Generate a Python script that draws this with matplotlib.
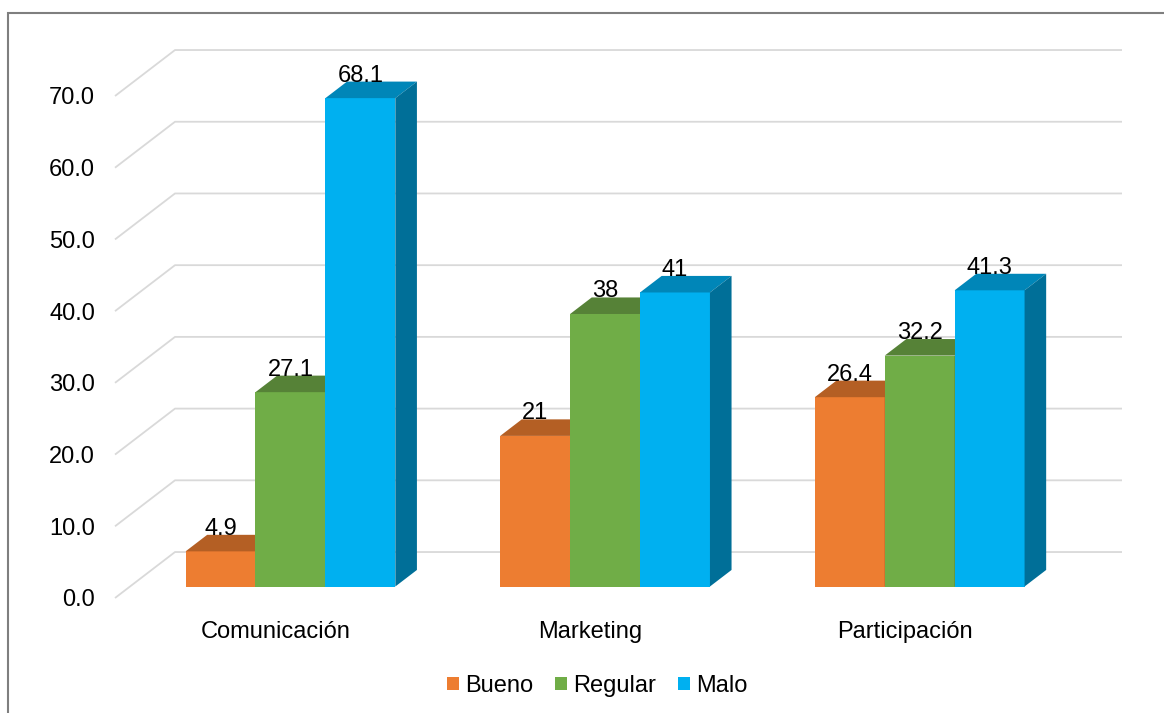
import matplotlib.pyplot as plt
from matplotlib.patches import Polygon, Patch, Rectangle

plt.rcParams['font.family'] = ['Liberation Sans', 'DejaVu Sans']

categorias = ['Comunicación', 'Marketing', 'Participación']
series = ['Bueno', 'Regular', 'Malo']
bueno = [4.9, 21, 26.4]
regular = [27.1, 38, 32.2]
malo = [68.1, 41, 41.3]
yticks = [0, 10, 20, 30, 40, 50, 60, 70]

# front / top / side colours per series
colores = [('#ED7D31', '#B45F24', '#A0521F'),
           ('#70AD47', '#568237', '#4E7631'),
           ('#00B0F0', '#0086B8', '#006F98')]

# fake 3d: depth offset of the back wall, in data units
DX = 0.1907
DY = 6.41
D0, D1 = 0.25, 0.61   # depth range of the bars
W = 2.0 / 9           # bar width
X0, X1 = -0.51, 2.5


def proj(x, v, d):
    return (x + d * DX, v + d * DY)


fig = plt.figure(figsize=(11.64, 7.13), dpi=100)
ax = fig.add_axes([115 / 1164, 115 / 713, 947 / 1164, 502 / 713])
ax.set_xlim(X0, X1)
ax.set_ylim(0, 70)
for s in ax.spines.values():
    s.set_visible(False)

# gridlines running from the front edge to the back wall
for v in yticks:
    pts = [(X0, v), proj(X0, v, 1), proj(X1, v, 1)]
    ax.plot([p[0] for p in pts], [p[1] for p in pts], color='#d9d9d9',
            lw=1.3, zorder=1, clip_on=False, solid_capstyle='butt')

valores = [bueno, regular, malo]
for i in range(len(categorias)):
    for j, vals in enumerate(valores):
        v = vals[i]
        xl = i + (j - 1.5) * W
        xr = xl + W
        front, top, side = colores[j]
        z = 3 + j
        ax.add_patch(Polygon([proj(xl, 0, D0), proj(xr, 0, D0), proj(xr, v, D0), proj(xl, v, D0)],
                             closed=True, facecolor=front, lw=0, zorder=z, clip_on=False))
        ax.add_patch(Polygon([proj(xl, v, D0), proj(xr, v, D0), proj(xr, v, D1), proj(xl, v, D1)],
                             closed=True, facecolor=top, lw=0, zorder=z, clip_on=False))
        ax.add_patch(Polygon([proj(xr, 0, D0), proj(xr, 0, D1), proj(xr, v, D1), proj(xr, v, D0)],
                             closed=True, facecolor=side, lw=0, zorder=z, clip_on=False))
        ax.text(xl + W / 2 + D0 * DX, v + D1 * DY, f'{v:g}', ha='center', va='baseline',
                fontsize=17, color='black', zorder=10)

ax.set_yticks(yticks)
ax.set_yticklabels([f'{v:.1f}' for v in yticks])
ax.set_xticks(range(len(categorias)))
ax.set_xticklabels(categorias)
ax.tick_params(length=0, labelsize=17, colors='black')
ax.tick_params(axis='y', pad=14.4)
ax.tick_params(axis='x', pad=16.5)

handles = [Patch(facecolor=c[0], edgecolor='none') for c in colores]
fig.legend(handles, series, loc='center', bbox_to_anchor=(597 / 1164, 1 - 686 / 713),
           ncol=3, frameon=False, fontsize=17, handlelength=0.51, handleheight=0.51,
           handletextpad=0.25, columnspacing=0.93, borderpad=0)

fig.patches.append(Rectangle((8 / 1164, -0.05), 1.1, 1 - 13 / 713 + 0.05, transform=fig.transFigure,
                             fill=False, edgecolor='#7f7f7f', lw=1.5))

fig.savefig('out.png', dpi=100)
